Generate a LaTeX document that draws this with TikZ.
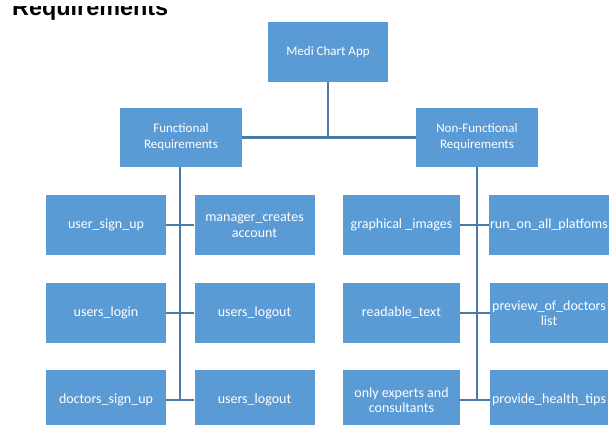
\documentclass[tikz,border=0pt]{standalone}
\usepackage{fontspec}
\setmainfont{Carlito}
\newfontfamily\titlefont{Liberation Sans}
\definecolor{boxblue}{HTML}{5B9BD5}
\definecolor{lineblue}{HTML}{4A7AAA}
\begin{document}
\begin{tikzpicture}[x=1pt,y=-1pt,
  box/.style={draw=none,fill=boxblue,text=white,minimum width=#1,minimum height=60pt,
    align=center,inner sep=1pt,font=\fontsize{14}{15.5}\selectfont},
  box/.default=120pt,
  topbox/.style={box=#1,font=\fontsize{13}{16}\selectfont},
  conn/.style={draw=lineblue,line width=2.4pt}]
\useasboundingbox (0,0) rectangle (613,425);
\fill[white] (0,0) rectangle (613,425);
\node[anchor=base west,font=\titlefont\bfseries\fontsize{23.4}{26}\selectfont,inner sep=0pt] (title) at (12,16) {Requirements};
\fill[white] (0,0) rectangle (613,6.5);
% top
\node[topbox=120pt] (app) at (328,52) {Medi Chart App};
\node[topbox=122pt,minimum height=59pt] (fr) at (181,137.5) {Functional\\Requirements};
\node[topbox=122pt,minimum height=59pt] (nfr) at (477,137.5) {Non-Functional\\Requirements};
\coordinate (jt) at (328,137.5);
\draw[conn] (app.south) -- (jt);
\draw[conn] (fr.east) -- (nfr.west);
% left columns
\node[box] (a1) at (106,225) {user\_sign\_up};
\node[box=120pt] (b1) at (254.5,225) {manager\_creates\\account};
\node[box] (a2) at (106,313) {users\_login};
\node[box=120pt] (b2) at (254.5,313) {users\_logout};
\node[box] (a3) at (106,400) {doctors\_sign\_up};
\node[box=120pt] (b3) at (254.5,400) {users\_logout};
\coordinate (fl3) at (180,400);
\draw[conn] (fr.south -| fl3) -- (fl3);
\draw[conn] (a1.east) -- (b1.west);
\draw[conn] (a2.east) -- (b2.west);
\draw[conn] (a3.east) -- (b3.west);
% right columns
\node[box=117pt] (c1) at (401.5,225) {graphical \_images};
\node[box=118pt] (d1) at (549,225) {run\_on\_all\_platfoms};
\node[box=117pt] (c2) at (401.5,313) {readable\_text};
\node[box=118pt] (d2) at (549,313) {preview\_of\_doctors\\list};
\node[box=117pt] (c3) at (401.5,400) {only experts and\\consultants};
\node[box=118pt] (d3) at (549,400) {provide\_health\_tips};
\coordinate (nl3) at (477,400);
\draw[conn] (nfr.south) -- (nl3);
\draw[conn] (c1.east) -- (d1.west);
\draw[conn] (c2.east) -- (d2.west);
\draw[conn] (c3.east) -- (d3.west);
\end{tikzpicture}
\end{document}
